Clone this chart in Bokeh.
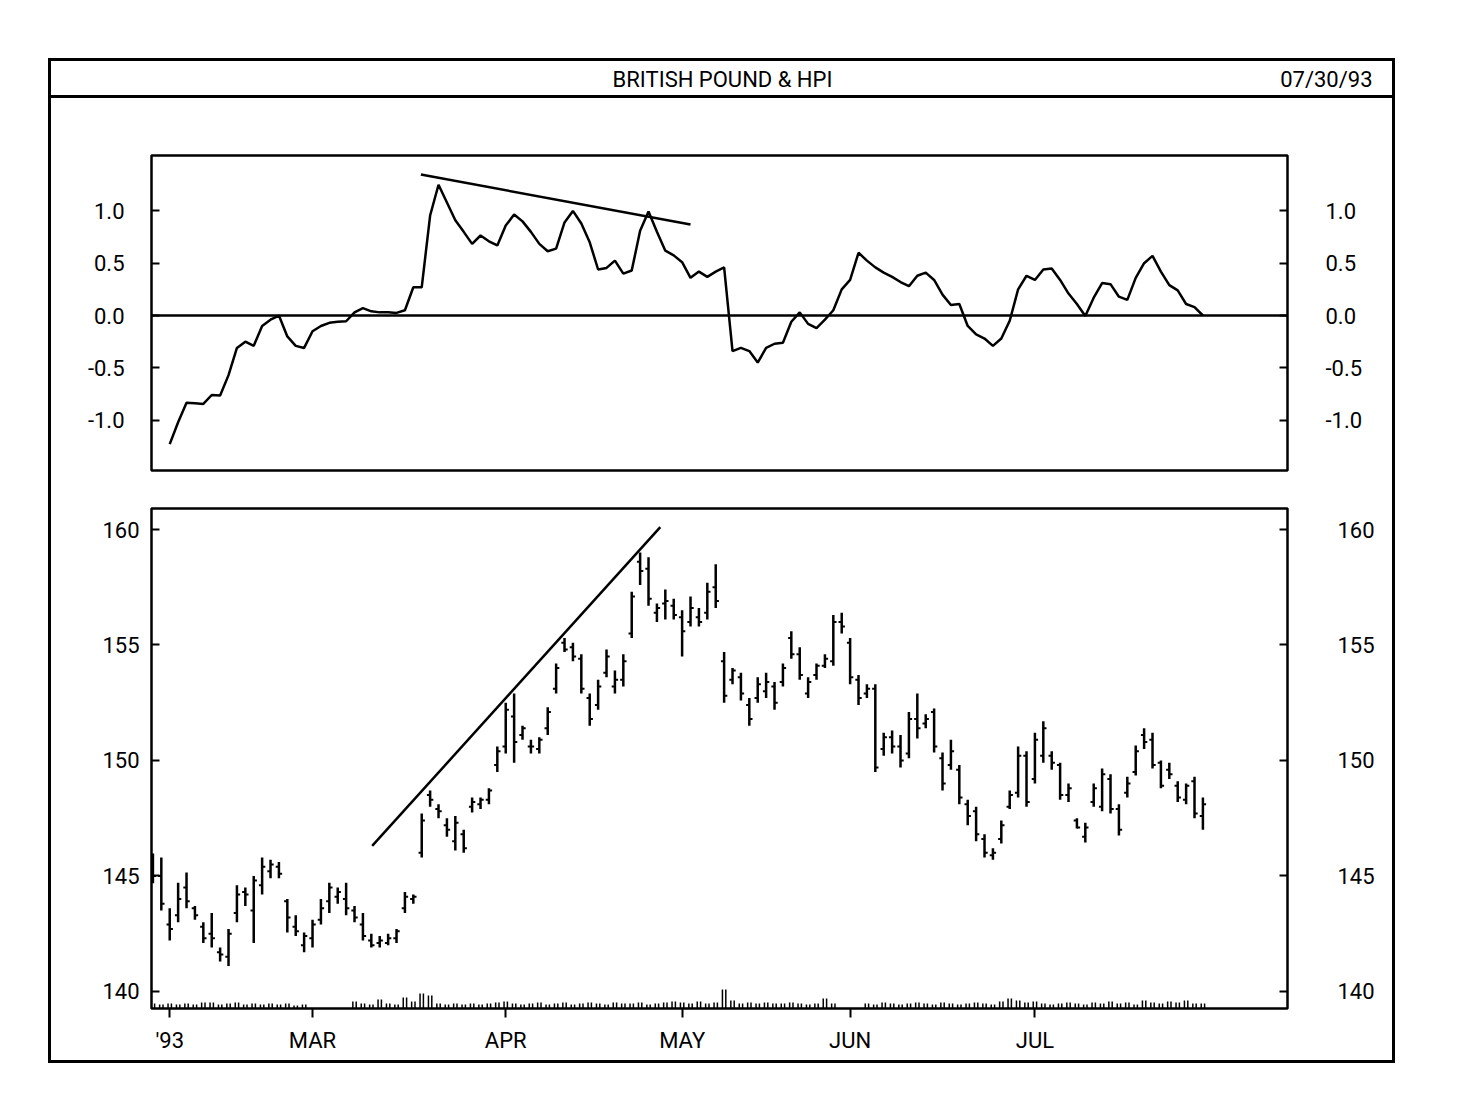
import numpy as np
from bokeh.plotting import figure
from bokeh.layouts import column
from bokeh.models import (ColumnDataSource, Range1d, LinearAxis, FixedTicker, Span, Label,
                          NumeralTickFormatter)
from bokeh.embed import file_html
from bokeh.resources import INLINE

# ---------------- data ----------------
# trading-day index (0 = Mar 1 1993), Feb 1 .. Jul 30 1993
days = list(range(-19, 107))

high = [145.97, 145.8, 143.6, 144.7, 145.15, 143.7, 143.0, 143.4, 141.9, 142.7,
        144.6, 144.5, 145.0, 145.8, 145.7, 145.6, 144.0, 143.3, 142.55,
        143.1, 144.0, 144.7, 144.5, 144.7, 143.7, 143.4, 142.5, 142.4, 142.5,
        142.7, 144.3, 144.2, 147.7, 148.7, 148.1, 147.5, 147.6, 147.0, 148.4,
        148.4, 148.8, 150.6, 152.5, 152.9, 151.5, 150.9, 151.0, 152.3, 154.2,
        155.3, 155.1, 154.6, 152.9, 153.5, 154.8, 153.9, 154.6, 157.3, 159.0,
        158.8, 156.8, 157.4, 157.0, 156.5, 157.1, 156.6, 157.7, 158.5, 154.7,
        154.0, 153.8, 152.7, 153.6, 153.8, 153.4, 154.2, 155.6, 154.9, 153.6,
        154.2, 154.6, 156.3, 156.4, 155.3, 153.7, 153.3, 153.3, 151.2, 151.3,
        151.1, 152.1, 152.9, 152.0, 152.25, 150.35, 150.9, 149.8, 148.3, 148.0,
        146.8, 146.2, 147.4, 148.7, 150.6, 150.4, 151.2, 151.7, 150.4, 149.9,
        149.0, 147.5, 147.3, 149.0, 149.65, 149.4, 148.1, 149.3, 150.65, 151.4,
        151.2, 150.0, 149.9, 149.1, 149.0, 149.3, 148.4]
low = [144.68, 143.5, 142.2, 143.0, 143.6, 143.1, 142.1, 141.9, 141.3, 141.1,
       143.0, 143.7, 142.1, 144.2, 144.9, 144.9, 142.55, 142.4, 141.7,
       141.9, 142.9, 143.4, 143.8, 143.3, 143.0, 142.2, 141.9, 141.9, 142.0,
       142.1, 143.4, 143.8, 145.8, 148.0, 147.5, 146.7, 146.1, 146.0, 147.75,
       147.9, 148.1, 149.5, 150.3, 149.9, 150.9, 150.3, 150.3, 151.1, 152.9,
       154.7, 154.3, 152.9, 151.5, 152.2, 153.6, 152.9, 153.2, 155.3, 157.6,
       156.7, 156.0, 156.1, 156.1, 154.5, 155.8, 155.8, 156.1, 156.6, 152.5,
       153.3, 152.6, 151.5, 152.5, 152.7, 152.2, 153.2, 154.4, 153.5, 152.7,
       153.5, 154.0, 154.1, 155.5, 153.3, 152.4, 152.7, 149.5, 150.2, 150.3,
       149.7, 150.1, 150.95, 151.4, 150.35, 148.7, 149.6, 148.1, 147.2, 146.5,
       145.8, 145.7, 146.4, 147.9, 148.4, 148.0, 149.0, 149.9, 149.6, 148.3,
       148.2, 147.05, 146.45, 148.0, 147.8, 147.7, 146.75, 148.4, 149.35, 150.5,
       149.65, 148.8, 149.2, 148.2, 148.1, 147.5, 147.0]
open_ = [145.0, 145.0, 142.9, 143.3, 144.5, 143.6, 142.8, 142.5, 141.7, 141.5,
         143.4, 144.3, 143.5, 144.6, 145.2, 145.4, 143.9, 142.8, 142.0,
         142.3, 143.1, 143.9, 144.1, 144.0, 143.5, 142.9, 142.2, 142.1, 142.1,
         142.3, 143.6, 144.0, 146.0, 148.5, 147.9, 147.2, 146.5, 146.8, 148.0,
         148.1, 148.3, 149.8, 150.6, 151.9, 151.1, 150.6, 150.5, 151.4, 153.1,
         155.1, 154.9, 154.4, 152.7, 152.4, 153.8, 153.2, 153.5, 155.5, 158.6,
         158.3, 156.4, 156.8, 156.7, 156.2, 156.0, 156.2, 156.4, 157.5, 154.3,
         153.5, 153.6, 152.4, 152.7, 153.0, 153.2, 153.4, 155.3, 154.6, 152.9,
         153.7, 154.1, 154.3, 156.0, 155.1, 153.5, 152.9, 153.1, 150.5, 151.0,
         150.6, 150.3, 151.8, 151.6, 152.1, 150.1, 149.8, 149.6, 148.1, 147.8,
         146.6, 145.9, 146.6, 148.0, 148.6, 150.2, 149.2, 150.2, 150.2, 149.8,
         148.5, 147.4, 146.7, 148.2, 148.0, 149.2, 147.9, 148.6, 149.5, 151.1,
         150.9, 149.9, 149.6, 148.9, 148.3, 149.1, 147.6]
close = [145.0, 143.8, 142.7, 144.0, 143.9, 143.3, 142.3, 142.3, 141.6, 142.5,
         144.2, 144.2, 144.8, 145.4, 145.5, 145.1, 143.2, 142.6, 142.4,
         142.9, 143.6, 144.5, 144.3, 143.6, 143.2, 142.4, 142.0, 142.2, 142.3,
         142.6, 144.1, 144.1, 147.4, 148.3, 147.8, 147.0, 147.3, 146.2, 148.2,
         148.3, 148.7, 150.4, 152.2, 150.8, 151.4, 150.6, 150.9, 152.1, 154.0,
         154.8, 154.5, 153.1, 151.8, 153.2, 154.5, 153.5, 154.3, 157.1, 158.2,
         157.0, 156.6, 156.9, 156.3, 155.6, 156.6, 156.0, 157.3, 156.9, 152.8,
         153.9, 152.9, 151.8, 153.3, 153.4, 152.5, 154.0, 154.6, 153.7, 153.4,
         154.1, 154.4, 156.0, 155.8, 153.6, 152.7, 153.1, 149.7, 151.0, 150.6,
         150.0, 151.8, 151.4, 151.8, 150.6, 149.0, 150.4, 148.4, 147.6, 146.8,
         146.0, 146.0, 147.2, 148.5, 150.2, 148.2, 150.9, 151.4, 149.9, 148.5,
         148.8, 147.1, 147.1, 148.8, 149.4, 147.9, 147.0, 149.0, 150.4, 150.8,
         149.8, 148.9, 149.4, 148.4, 148.9, 147.7, 148.1]

nan = float("nan")
volume = [1.0, 0.8, 1.0, 0.8, 1.0, 0.8, 1.2, 1.2, 0.8, 1.0, 1.2, 0.8, 1.0, 0.8, 1.0, 0.8, 1.0, 0.6, 0.8,
          nan, nan, nan, nan, nan,
          1.4, 1.0, 0.8, 1.8, 1.0, 0.8, 2.2, 1.4, 3.0, 2.6, 1.0, 0.8, 1.0, 0.8, 1.0, 0.8, 1.0, 1.2,
          1.4, 1.0, 0.8, 1.0, 1.2, 0.8, 1.0, 1.2, 0.8, 1.0, 1.2, 1.0, 0.8, 1.2, 1.0, 1.0, 1.2, 0.8, 1.0, 1.2, 1.4,
          1.2, 1.0, 1.4, 1.0, 1.2, 3.8, 1.6, 1.0, 1.2, 1.0, 1.2, 1.0, 1.0, 1.2, 1.0, 0.8, 1.0, 2.0, 1.0,
          nan, nan, nan,
          1.0, 0.8, 1.2, 1.0, 0.8, 1.0, 1.2, 1.0, 0.8, 1.2, 1.0, 0.8, 1.0, 1.2, 1.0, 0.8, 1.4, 2.0, 1.6, 1.2,
          1.4, 1.0, 0.8, 1.0, 1.2, 1.0, 0.8, 1.2, 1.0, 1.4, 1.0, 1.2, 0.8, 1.6, 1.2, 1.0, 1.4, 1.2, 1.6, 1.0, 1.0]

hpi_days = list(range(-17, 107))
hpi = [-1.23, -1.02, -0.835, -0.84, -0.845, -0.76, -0.765, -0.57, -0.31, -0.25,
       -0.29, -0.10, -0.04, 0.0, -0.2, -0.29, -0.31,
       -0.15, -0.10, -0.07, -0.06, -0.055, 0.03, 0.07, 0.04, 0.03, 0.03,
       0.025, 0.05, 0.27, 0.27, 0.956, 1.25, 1.08, 0.91, 0.80, 0.685,
       0.765, 0.71, 0.67, 0.86, 0.965, 0.90, 0.80, 0.685, 0.615, 0.64,
       0.89, 1.0, 0.88, 0.70, 0.44, 0.455, 0.525, 0.40, 0.43, 0.81,
       0.995, 0.80, 0.62, 0.575, 0.51, 0.36, 0.42, 0.37, 0.42, 0.46,
       -0.34, -0.31, -0.34, -0.45, -0.31, -0.27, -0.26, -0.06, 0.03, -0.08,
       -0.12, -0.04, 0.05, 0.25, 0.34, 0.60, 0.525, 0.46, 0.41, 0.37,
       0.32, 0.28, 0.38, 0.41, 0.34, 0.20, 0.10, 0.11, -0.10, -0.18,
       -0.22, -0.29, -0.22, -0.05, 0.25, 0.38, 0.34, 0.44, 0.45, 0.34,
       0.21, 0.11, -0.005, 0.17, 0.31, 0.30, 0.18, 0.15, 0.36, 0.50,
       0.57, 0.42, 0.29, 0.24, 0.11, 0.08, 0.0]

# hand-drawn trend lines (day index, value)
hpi_trend_days = [12.9, 45.0]
hpi_trend_vals = [1.348, 0.87]
price_trend_days = [7.1, 41.4]
price_trend_vals = [146.3, 160.1]

month_ticks = [-17, 0, 23, 44, 64, 86]
month_labels = ["'93", "MAR", "APR", "MAY", "JUN", "JUL"]
hpi_ticks = [-1.0, -0.5, 0.0, 0.5, 1.0]
price_ticks = [140, 145, 150, 155, 160]

title_text = "BRITISH POUND & HPI"
date_text = "07/30/93"

# ---------------- styling ----------------
FONT = "Roboto"
FS = "22px"
LW = 2.5
W = 1341
XR = (-19.17, 116.07)

def base_style(p):
    p.grid.visible = False
    p.background_fill_color = "white"
    p.border_fill_color = "white"

def style_axis(ax, tick_in, tick_out, standoff):
    ax.axis_line_color = None
    ax.major_tick_in = tick_in
    ax.major_tick_out = tick_out
    ax.major_tick_line_width = 2
    ax.major_tick_line_color = "black"
    ax.minor_tick_line_color = None
    ax.major_label_standoff = standoff
    ax.major_label_text_font = FONT
    ax.major_label_text_font_size = FS
    ax.major_label_text_color = "black"

# ---------------- title bar ----------------
tf = figure(width=W, height=37, x_range=Range1d(0, W), y_range=Range1d(0, 37),
            toolbar_location=None, output_backend="svg", min_border=0,
            x_axis_location=None, y_axis_location=None, outline_line_color=None,
            styles={"border-bottom": "3px solid black"})
base_style(tf)
tf.add_layout(Label(x=671, y=19, text=title_text, text_align="center", text_baseline="middle",
                    text_font=FONT, text_font_size="22px", text_color="black"))
tf.add_layout(Label(x=1321, y=19, text=date_text, text_align="right", text_baseline="middle",
                    text_font=FONT, text_font_size="22px", text_color="black"))

# ---------------- HPI panel ----------------
top = figure(width=W, height=392, x_range=Range1d(*XR), y_range=Range1d(-1.482, 1.530),
             toolbar_location=None, output_backend="svg",
             min_border_left=100, min_border_right=105, min_border_top=57, min_border_bottom=20,
             x_axis_location=None, y_axis_location="left",
             outline_line_color="black", outline_line_width=LW)
base_style(top)
top.add_layout(LinearAxis(), "right")
for ax in top.yaxis:
    ax.ticker = FixedTicker(ticks=hpi_ticks)
    ax.formatter = NumeralTickFormatter(format="0.0")
style_axis(top.yaxis[0], 8, 0, 27)
style_axis(top.yaxis[1], 8, 0, 38)
top.add_layout(Span(location=0, dimension="width", line_color="black", line_width=LW))
top.line(hpi_days, hpi, line_color="black", line_width=LW)
top.line(hpi_trend_days, hpi_trend_vals, line_color="black", line_width=LW)

# ---------------- price panel ----------------
bot = figure(width=W, height=570, x_range=Range1d(*XR), y_range=Range1d(139.26, 160.91),
             toolbar_location=None, output_backend="svg",
             min_border_left=100, min_border_right=105, min_border_top=18, min_border_bottom=52,
             outline_line_color="black", outline_line_width=LW)
base_style(bot)
bot.extra_y_ranges = {"vol": Range1d(0, 100)}
bot.add_layout(LinearAxis(), "right")
for ax in bot.yaxis:
    ax.ticker = FixedTicker(ticks=price_ticks)
style_axis(bot.yaxis[0], 8, 0, 12)
style_axis(bot.yaxis[1], 8, 0, 50)
xa = bot.xaxis[0]
xa.ticker = FixedTicker(ticks=month_ticks)
xa.major_label_overrides = {t: l for t, l in zip(month_ticks, month_labels)}
style_axis(xa, 0, 9, 10)

src = ColumnDataSource(dict(x=days, high=high, low=low, open=open_, close=close, vol=volume,
                            xl=[d - 0.38 for d in days], xr=[d + 0.38 for d in days],
                            xa=[d - 0.2 for d in days], xb=[d + 0.2 for d in days],
                            zero=[0] * len(days)))
bot.segment("x", "low", "x", "high", source=src, line_color="black", line_width=LW)
bot.segment("xl", "open", "x", "open", source=src, line_color="black", line_width=2)
bot.segment("x", "close", "xr", "close", source=src, line_color="black", line_width=2)
# volume ticks along the bottom, drawn as double strokes
bot.segment("xa", "zero", "xa", "vol", source=src, line_color="black", line_width=1.5, y_range_name="vol")
bot.segment("xb", "zero", "xb", "vol", source=src, line_color="black", line_width=1.5, y_range_name="vol")
bot.line(price_trend_days, price_trend_vals, line_color="black", line_width=LW)

layout = column(tf, column(top, bot), margin=(58, 0, 0, 48),
                styles={"border": "3px solid black", "background-color": "white"})

with open("out.html", "w") as f:
    f.write(file_html(layout, INLINE))
